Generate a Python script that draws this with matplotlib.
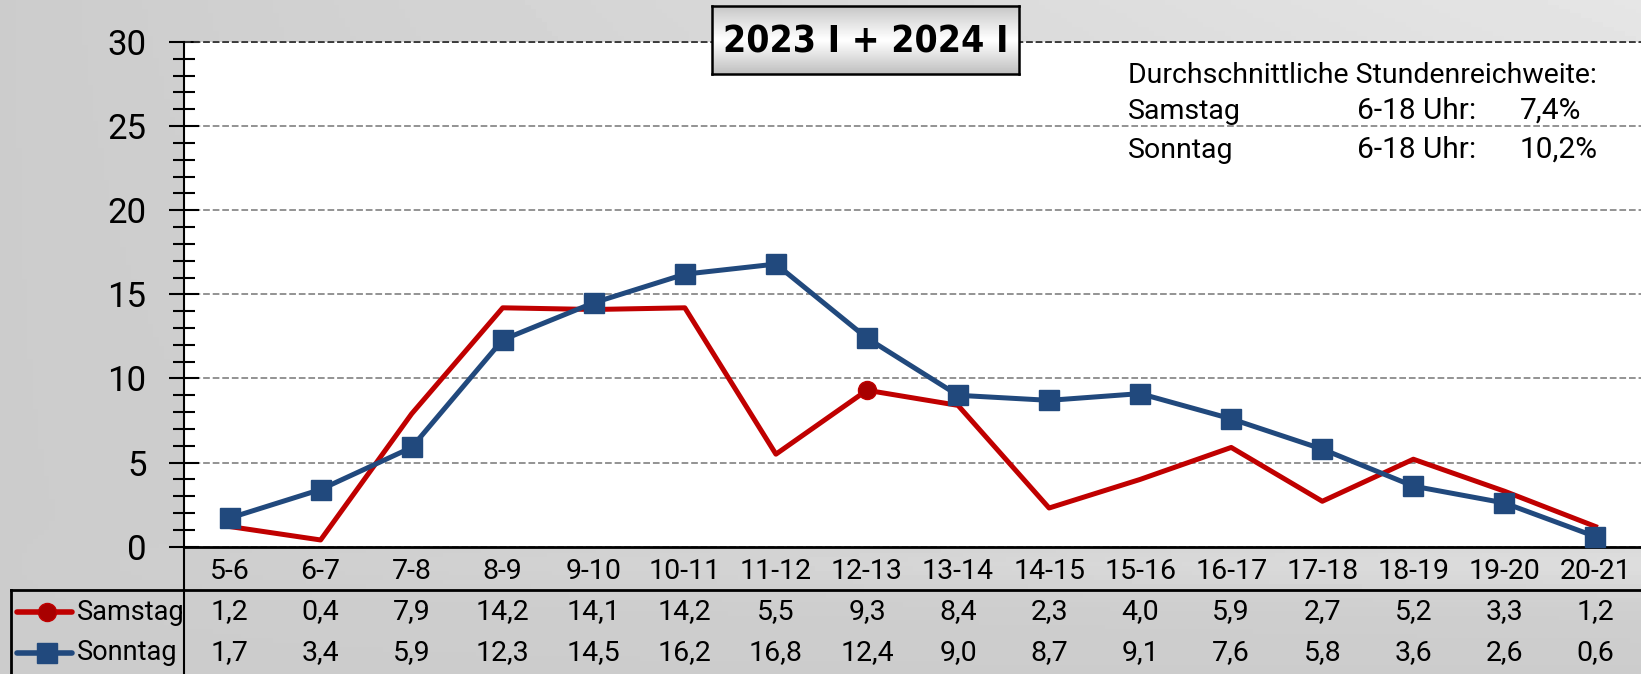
import matplotlib.pyplot as plt
import numpy as np
from matplotlib.lines import Line2D
from matplotlib.ticker import MultipleLocator
from matplotlib.transforms import blended_transform_factory

hours = ['5-6', '6-7', '7-8', '8-9', '9-10', '10-11', '11-12', '12-13',
         '13-14', '14-15', '15-16', '16-17', '17-18', '18-19', '19-20', '20-21']
samstag = [1.2, 0.4, 7.9, 14.2, 14.1, 14.2, 5.5, 9.3, 8.4, 2.3, 4.0, 5.9, 2.7, 5.2, 3.3, 1.2]
sonntag = [1.7, 3.4, 5.9, 12.3, 14.5, 16.2, 16.8, 12.4, 9.0, 8.7, 9.1, 7.6, 5.8, 3.6, 2.6, 0.6]
avg_labels = ['Samstag', 'Sonntag']
avg_values = ['7,4%', '10,2%']

red = '#c00000'
blue = '#21497d'
plt.rcParams['font.family'] = ['Roboto', 'DejaVu Sans']

W, H = 1641, 674
fig = plt.figure(figsize=(W / 100, H / 100), dpi=100)

# grey cloudy background
bg = fig.add_axes([0, 0, 1, 1])
xx, yy = np.meshgrid(np.linspace(0, 1, 300), np.linspace(0, 1, 150))
shade = 0.80 + 0.10 * xx * yy + 0.05 * np.exp(-((yy - 0.16) / 0.04) ** 2) * xx
bg.imshow(shade, extent=[0, 1, 0, 1], origin='lower', aspect='auto',
          cmap='gray', vmin=0, vmax=1)
bg.axis('off')

ax = fig.add_axes([184 / W, 127.3 / H, 1 - 184 / W, (632 - 127.3) / H])
ax.set_facecolor('white')
x = np.arange(len(hours))
ax.plot(x, samstag, color=red, lw=3.6, marker='o', markevery=[7], ms=13,
        mfc='#a80000', mec=red, clip_on=False, zorder=3)
ax.plot(x, sonntag, color=blue, lw=3.6, marker='s', ms=14, clip_on=False, zorder=4)

ax.set_xlim(-0.5, len(hours) - 0.5)
ax.set_ylim(0, 30)
ax.set_yticks(range(0, 31, 5))
ax.yaxis.set_minor_locator(MultipleLocator(1))
ax.yaxis.grid(True, ls='--', color='#8a8a8a', lw=1.3)
ax.axhline(30, ls='--', color='#333333', lw=1.3, clip_on=False)
ax.tick_params(axis='y', which='major', direction='inout', length=22, width=1.5,
               labelsize=25, pad=16)
ax.tick_params(axis='y', which='minor', direction='inout', length=16, width=1.5)
ax.set_xticks(x)
ax.set_xticklabels(hours)
ax.tick_params(axis='x', length=0, labelsize=20.5, pad=8)
for s in ['top', 'right']:
    ax.spines[s].set_visible(False)
ax.spines['left'].set_linewidth(1.5)
ax.spines['bottom'].set_linewidth(2)

# data table under the chart
tr = blended_transform_factory(ax.transData, fig.transFigure)
for i in x:
    ax.text(i, (H - 612) / H, f'{samstag[i]:.1f}'.replace('.', ','), transform=tr,
            ha='center', va='center', fontsize=20.5)
    ax.text(i, (H - 653) / H, f'{sonntag[i]:.1f}'.replace('.', ','), transform=tr,
            ha='center', va='center', fontsize=20.5)

fig.add_artist(Line2D([11 / W, 1], [(H - 590) / H] * 2, color='black', lw=2))
fig.add_artist(Line2D([184 / W] * 2, [0, (H - 547) / H], color='black', lw=1.5))
fig.add_artist(Line2D([11 / W] * 2, [0, (H - 590) / H], color='black', lw=2))

for yp, col, mk, name in [(612, red, 'o', 'Samstag'), (653, blue, 's', 'Sonntag')]:
    fy = (H - yp) / H
    fig.add_artist(Line2D([17 / W, 72 / W], [fy, fy], color=col, lw=4,
                          solid_capstyle='round'))
    fig.add_artist(Line2D([47 / W], [fy], color=col, marker=mk, ms=13 if mk == 'o' else 14,
                          mfc='#a80000' if mk == 'o' else col, mec=col))
    fig.text(77 / W, fy, name, ha='left', va='center', fontsize=19.5)

# average reach note
fig.text(1128 / W, (H - 83) / H, 'Durchschnittliche Stundenreichweite:',
         va='baseline', fontsize=20.5)
for k, yb in enumerate([119, 158]):
    fig.text(1128 / W, (H - yb) / H, avg_labels[k], va='baseline', fontsize=20.5)
    fig.text(1357 / W, (H - yb) / H, '6-18 Uhr:', va='baseline', fontsize=21.5)
    fig.text(1520 / W, (H - yb) / H, avg_values[k], va='baseline', fontsize=21.5)

# title box
tb = fig.add_axes([712 / W, (H - 74) / H, 307 / W, 68 / H])
g = np.concatenate([np.linspace(0.78, 1.0, 40), np.linspace(1.0, 0.75, 40)])[:, None]
tb.imshow(g, extent=[0, 1, 0, 1], aspect='auto', cmap='gray', vmin=0, vmax=1)
tb.set_xticks([])
tb.set_yticks([])
for s in tb.spines.values():
    s.set_linewidth(1.8)
title = tb.text(0.5, 0.47, '2023 I + 2024 I', ha='center', va='center', fontsize=38,
                fontweight='heavy', fontstretch='condensed',
                family=['DejaVu Sans', 'Liberation Sans'])
# shrink the title so it fits inside the box like in the original
fig.canvas.draw()
w = title.get_window_extent(fig.canvas.get_renderer()).width
title.set_fontsize(38 * 285 / w)

fig.savefig('out.png', dpi=100)
